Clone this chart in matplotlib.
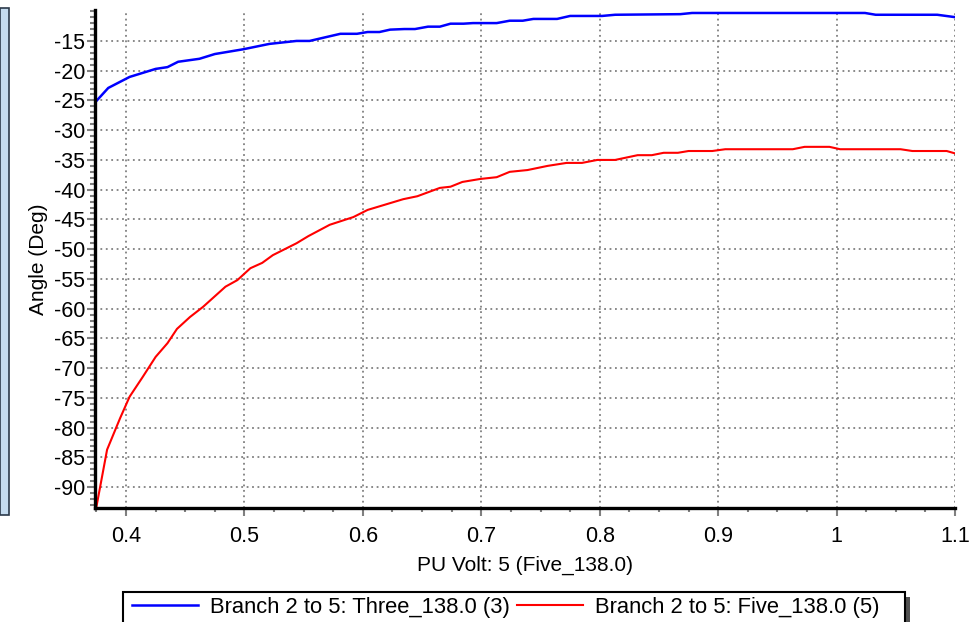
import matplotlib.pyplot as plt
from matplotlib.patches import Rectangle
from matplotlib.ticker import MultipleLocator

# PU voltage at bus 5 (x) and branch angles (deg)
volt_three = [0.374, 0.385, 0.403, 0.425, 0.435, 0.444, 0.462, 0.475, 0.499, 0.521,
              0.544, 0.555, 0.581, 0.595, 0.604, 0.614, 0.623, 0.635, 0.644, 0.655,
              0.665, 0.674, 0.685, 0.693, 0.713, 0.724, 0.735, 0.744, 0.764, 0.775,
              0.802, 0.813, 0.868, 0.878, 1.024, 1.033, 1.085, 1.1]
angle_three = [-25.3, -22.9, -21.05, -19.7, -19.4, -18.5, -18.0, -17.2, -16.4, -15.5,
               -15.0, -15.0, -13.8, -13.8, -13.5, -13.5, -13.1, -13.0, -13.0, -12.6,
               -12.6, -12.1, -12.1, -12.0, -12.0, -11.6, -11.6, -11.3, -11.3, -10.8,
               -10.8, -10.6, -10.5, -10.3, -10.3, -10.6, -10.6, -11.0]

volt_five = [0.375, 0.384, 0.395, 0.403, 0.414, 0.425, 0.435, 0.443, 0.454, 0.465,
             0.484, 0.494, 0.505, 0.515, 0.524, 0.544, 0.554, 0.572, 0.592, 0.604,
             0.634, 0.646, 0.665, 0.674, 0.684, 0.699, 0.713, 0.724, 0.739, 0.756,
             0.772, 0.785, 0.798, 0.813, 0.832, 0.844, 0.854, 0.866, 0.875, 0.895,
             0.906, 0.963, 0.973, 0.994, 1.003, 1.054, 1.064, 1.093, 1.1]
angle_five = [-93.3, -83.7, -78.4, -74.8, -71.5, -68.1, -65.8, -63.4, -61.4, -59.7,
              -56.3, -55.2, -53.2, -52.3, -51.0, -49.0, -47.8, -45.9, -44.6, -43.4,
              -41.6, -41.1, -39.7, -39.5, -38.7, -38.2, -37.9, -37.0, -36.7, -36.0,
              -35.5, -35.5, -35.0, -35.0, -34.2, -34.2, -33.8, -33.8, -33.5, -33.5,
              -33.2, -33.2, -32.8, -32.8, -33.2, -33.2, -33.5, -33.5, -33.9]

labels = ["Branch 2 to 5: Three_138.0 (3)", "Branch 2 to 5: Five_138.0 (5)"]
xticks = [0.4, 0.5, 0.6, 0.7, 0.8, 0.9, 1.0, 1.1]
xtick_labels = ["0.4", "0.5", "0.6", "0.7", "0.8", "0.9", "1", "1.1"]
yticks = list(range(-90, -14, 5))

plt.rcParams['font.family'] = ['Liberation Sans', 'DejaVu Sans']

W, H = 980, 622
fig = plt.figure(figsize=(W / 100, H / 100), dpi=100)
ax = fig.add_axes([95 / W, 1 - 508 / H, 860 / W, 498 / H])


def px_rect(x0, y0, x1, y1, **kw):
    # rectangle given in image pixels (origin top left)
    return Rectangle((x0 / W, 1 - y1 / H), (x1 - x0) / W, (y1 - y0) / H,
                     transform=fig.transFigure, **kw)


# window edge strip on the left
fig.patches.append(px_rect(0, 8, 9, 515, facecolor='#c4dbef',
                           edgecolor='#2b3a4a', linewidth=1.2))

ax.plot(volt_three, angle_three, color='#0000ff', linewidth=1.8, label=labels[0])
ax.plot(volt_five, angle_five, color='#ff0000', linewidth=1.5, label=labels[1])

ax.set_xlim(0.3738, 1.1)
ax.set_ylim(-93.5, -9.8)
ax.xaxis.set_minor_locator(MultipleLocator(0.025))
ax.yaxis.set_minor_locator(MultipleLocator(1))
ax.set_xticks(xticks)
ax.set_xticklabels(xtick_labels)
ax.set_yticks(yticks)
ax.set_yticklabels([str(v) for v in yticks])

ax.grid(True, which='major', color='#808080', linestyle=(0, (1, 2)), linewidth=1.3)
for s in ['top', 'right']:
    ax.spines[s].set_visible(False)
for s in ['left', 'bottom']:
    ax.spines[s].set_linewidth(2.4)
    ax.spines[s].set_color('black')

ax.tick_params(axis='both', which='both', colors='#808080', labelcolor='black',
               labelsize=15.5, width=1.5)
ax.tick_params(axis='x', which='major', length=6, pad=7)
ax.tick_params(axis='x', which='minor', length=3)
ax.tick_params(axis='y', which='major', length=6, pad=1)
ax.tick_params(axis='y', which='minor', length=3.5)

ax.set_xlabel("PU Volt: 5 (Five_138.0)", fontsize=15, labelpad=6)
ax.set_ylabel("Angle (Deg)", fontsize=15, labelpad=4)

# legend frame with shadow, drawn by hand so its width matches
fig.patches.append(px_rect(128, 597, 910, 640, facecolor='#505050',
                           edgecolor='none', zorder=1))
fig.patches.append(px_rect(123, 592, 905, 640, facecolor='white',
                           edgecolor='black', linewidth=1.5, zorder=2))
leg = fig.legend(loc='center left', bbox_to_anchor=(132 / W, 1 - 607 / H),
                 ncol=2, fontsize=15.8, frameon=False,
                 handlelength=3.0, handletextpad=0.55, columnspacing=0.35,
                 borderpad=0, borderaxespad=0)
leg.set_zorder(3)

fig.savefig("out.png", dpi=100)
